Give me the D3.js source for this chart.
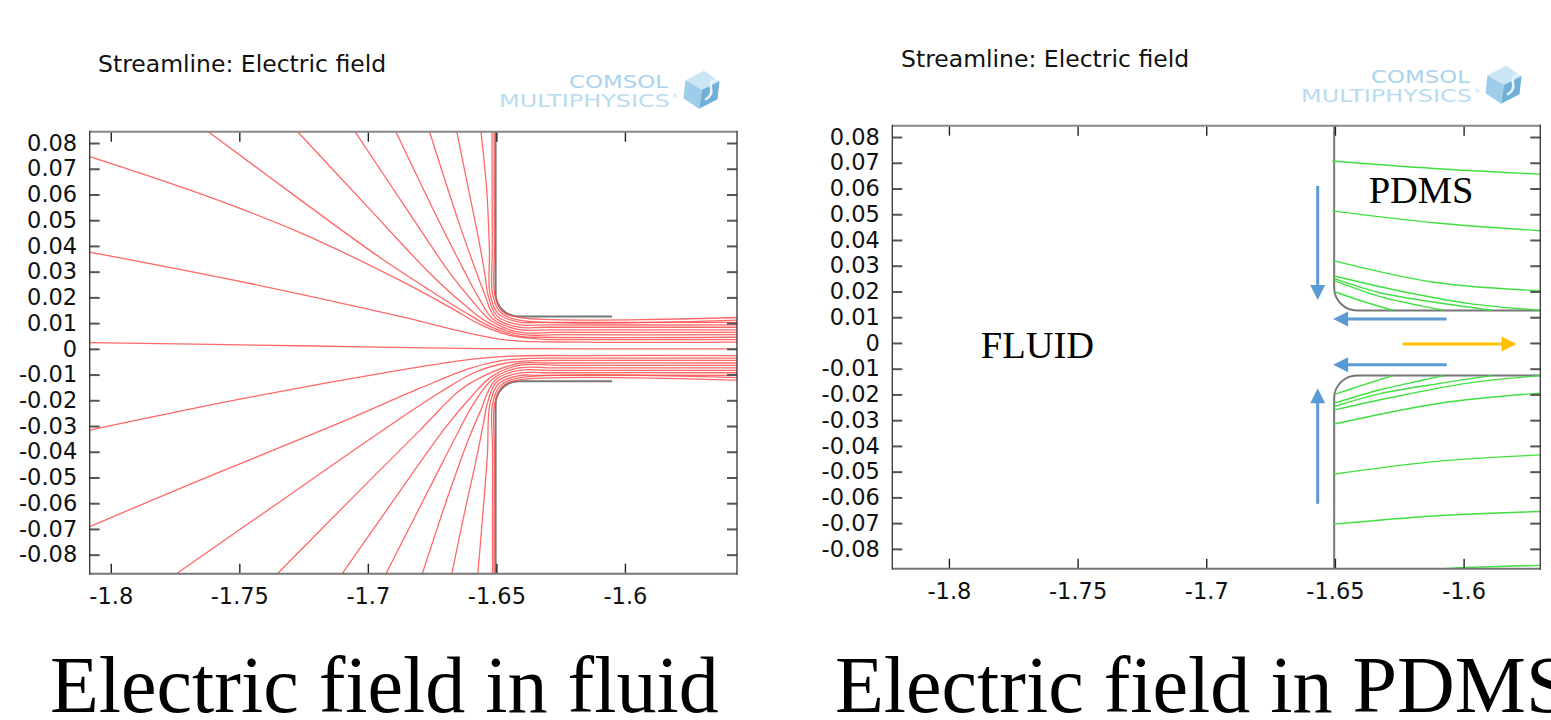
<!DOCTYPE html>
<html>
<head>
<meta charset="utf-8">
<script src="https://cdn.jsdelivr.net/npm/d3@7"></script>
<style>
  body { margin: 0; background: #fff; }
  svg { display: block; }
  .tick text { font-family: "DejaVu Sans", sans-serif; font-size: 22.5px; fill: #111; }
  .yax .tick line { stroke: #555; stroke-width: 2; }
  .xax .tick line { stroke: #222; stroke-width: 1.4; }
  .title { font-family: "DejaVu Sans", sans-serif; font-size: 23.5px; fill: #111; }
  .serif { font-family: "Liberation Serif", "Times New Roman", serif; fill: #000; }
</style>
</head>
<body>
<svg id="chart" width="1551" height="720"></svg>
<script>
// ticks
var xTicks = [-1.8, -1.75, -1.7, -1.65, -1.6];
var yTicks = [0.08, 0.07, 0.06, 0.05, 0.04, 0.03, 0.02, 0.01, 0, -0.01, -0.02, -0.03, -0.04, -0.05, -0.06, -0.07, -0.08];

// channel geometry (model units)
var wallX = -1.6503;
var channelHalf = 0.0126;
var filletR = 0.0089;
var fluidWallEnd = -1.605;

// streamlines in the fluid
var fluidUpper = [
  [[-1.6509,0.0844],[-1.6508,0.0382],[-1.6507,0.0215],[-1.6479,0.0148],[-1.6412,0.0122],[-1.556,0.0122]],
  [[-1.6517,0.0844],[-1.6516,0.0382],[-1.6515,0.0215],[-1.6485,0.0143],[-1.6412,0.0112],[-1.556,0.0112]],
  [[-1.6560,0.0844],[-1.6538,0.0623],[-1.6527,0.0382],[-1.6525,0.0215],[-1.6492,0.0136],[-1.6412,0.0104],[-1.6330,0.0103],[-1.556,0.0103]],
  [[-1.6654,0.0844],[-1.6609,0.0623],[-1.6568,0.0421],[-1.6544,0.0285],[-1.6533,0.0211],[-1.6499,0.0129],[-1.6412,0.0094],[-1.6311,0.0093],[-1.556,0.0093]],
  [[-1.6760,0.0844],[-1.6642,0.0479],[-1.6583,0.0312],[-1.6548,0.0219],[-1.6505,0.0122],[-1.6412,0.0084],[-1.6311,0.0084],[-1.556,0.0084]],
  [[-1.6891,0.0844],[-1.6719,0.0487],[-1.6626,0.0305],[-1.6572,0.0204],[-1.6512,0.0115],[-1.6412,0.0075],[-1.6291,0.0074],[-1.556,0.0074]],
  [[-1.7050,0.0844],[-1.6836,0.0524],[-1.6680,0.0293],[-1.6595,0.0188],[-1.6519,0.0108],[-1.6412,0.0065],[-1.6272,0.0064],[-1.556,0.0064]],
  [[-1.7273,0.0844],[-1.6992,0.0542],[-1.6758,0.0293],[-1.6622,0.0169],[-1.6533,0.0103],[-1.6412,0.0057],[-1.6253,0.0055],[-1.556,0.0055]],
  [[-1.7621,0.0844],[-1.7264,0.0580],[-1.6953,0.0355],[-1.6758,0.0227],[-1.6622,0.0142],[-1.6525,0.0087],[-1.6412,0.0049],[-1.6311,0.0045],[-1.556,0.0045]],
  [[-1.8082,0.0747],[-1.7653,0.0603],[-1.7264,0.0452],[-1.6875,0.0266],[-1.6680,0.0161],[-1.6564,0.0095],[-1.6447,0.0052],[-1.6311,0.0037],[-1.6194,0.0036],[-1.556,0.0036]],
  [[-1.8082,0.0376],[-1.7458,0.0254],[-1.6875,0.0126],[-1.6603,0.0060],[-1.6447,0.0033],[-1.6175,0.0026],[-1.556,0.0026]]
];
var fluidCenter = [[-1.8082,0.0024],[-1.7264,0.0012],[-1.6564,0.0001],[-1.556,0]];
var fluidLower = [
  [[-1.8082,-0.0316],[-1.7458,-0.0188],[-1.6875,-0.0083],[-1.6603,-0.0041],[-1.6447,-0.0028],[-1.6175,-0.0026],[-1.556,-0.0026]],
  [[-1.8082,-0.0691],[-1.7653,-0.0510],[-1.7112,-0.0289],[-1.6797,-0.0153],[-1.6603,-0.0076],[-1.6486,-0.0047],[-1.6369,-0.0037],[-1.6194,-0.0036],[-1.556,-0.0036]],
  [[-1.7743,-0.0873],[-1.7342,-0.0594],[-1.6953,-0.0324],[-1.6719,-0.0169],[-1.6583,-0.0091],[-1.6467,-0.0056],[-1.6350,-0.0046],[-1.6194,-0.0045],[-1.556,-0.0045]],
  [[-1.7351,-0.0873],[-1.7069,-0.0588],[-1.6797,-0.0316],[-1.6642,-0.0161],[-1.6544,-0.0103],[-1.6412,-0.0056],[-1.6311,-0.0055],[-1.556,-0.0055]],
  [[-1.7099,-0.0873],[-1.6875,-0.0553],[-1.6700,-0.0308],[-1.6603,-0.0192],[-1.6519,-0.0108],[-1.6412,-0.0064],[-1.6253,-0.0064],[-1.556,-0.0064]],
  [[-1.6929,-0.0873],[-1.6758,-0.0537],[-1.6649,-0.0324],[-1.6587,-0.0211],[-1.6512,-0.0115],[-1.6412,-0.0074],[-1.6272,-0.0074],[-1.556,-0.0074]],
  [[-1.6788,-0.0873],[-1.6680,-0.0549],[-1.6610,-0.0355],[-1.6564,-0.0246],[-1.6505,-0.0122],[-1.6412,-0.0084],[-1.6291,-0.0084],[-1.556,-0.0084]],
  [[-1.6673,-0.0873],[-1.6626,-0.0646],[-1.6579,-0.0433],[-1.6548,-0.0277],[-1.6535,-0.0211],[-1.6499,-0.0129],[-1.6412,-0.0094],[-1.6311,-0.0093],[-1.556,-0.0093]],
  [[-1.6572,-0.0873],[-1.6553,-0.0646],[-1.6535,-0.0413],[-1.6525,-0.0215],[-1.6492,-0.0136],[-1.6412,-0.0104],[-1.6330,-0.0103],[-1.556,-0.0103]],
  [[-1.6515,-0.0873],[-1.6515,-0.0394],[-1.6515,-0.0215],[-1.6485,-0.0143],[-1.6412,-0.0113],[-1.556,-0.0112]],
  [[-1.6509,-0.0873],[-1.6508,-0.0394],[-1.6507,-0.0215],[-1.6479,-0.0148],[-1.6412,-0.0121],[-1.556,-0.0122]]
];

// streamlines in the PDMS
var pdmsUpper = [
  [[-1.6510,0.0707],[-1.6115,0.0678],[-1.5702,0.0656]],
  [[-1.6510,0.0513],[-1.6115,0.0467],[-1.5702,0.0436]],
  [[-1.6507,0.0320],[-1.6115,0.0236],[-1.5702,0.0203]],
  [[-1.6502,0.0260],[-1.6248,0.0202],[-1.5976,0.0153],[-1.5702,0.0127]],
  [[-1.6502,0.0250],[-1.6325,0.0195],[-1.6092,0.0155],[-1.5890,0.0127]],
  [[-1.6502,0.0242],[-1.6325,0.0180],[-1.6170,0.0145],[-1.6077,0.0127]],
  [[-1.6496,0.0197],[-1.6402,0.0165],[-1.6275,0.0127]]
];
var pdmsLower = [
  [[-1.6507,-0.0704],[-1.6115,-0.0672],[-1.5702,-0.0655]],
  [[-1.6507,-0.0510],[-1.6115,-0.0461],[-1.5702,-0.0435]],
  [[-1.6507,-0.0316],[-1.6092,-0.0234],[-1.5702,-0.0195]],
  [[-1.6502,-0.0260],[-1.6248,-0.0205],[-1.5976,-0.0155],[-1.5702,-0.0127]],
  [[-1.6502,-0.0247],[-1.6325,-0.0197],[-1.6092,-0.0157],[-1.5890,-0.0127]],
  [[-1.6502,-0.0234],[-1.6325,-0.0182],[-1.6170,-0.0147],[-1.6077,-0.0127]],
  [[-1.6496,-0.0198],[-1.6402,-0.0167],[-1.6275,-0.0127]],
  [[-1.6150,-0.0885],[-1.6062,-0.0876],[-1.5702,-0.0864]]
];

// annotation arrows on the PDMS plot [from, to]
var fieldArrows = [
  [[-1.6567, 0.0610], [-1.6567, 0.0167]],
  [[-1.6567, -0.0625], [-1.6567, -0.0176]],
  [[-1.6066, 0.0093], [-1.6507, 0.0093]],
  [[-1.6066, -0.0085], [-1.6507, -0.0085]]
];
var flowArrow = [[-1.6237, -0.0004], [-1.5794, -0.0004]];

var regionLabels = [
  {text: "FLUID", x: -1.7876, y: -0.0059},
  {text: "PDMS", x: -1.6369, y: 0.0543}
];

var panels = [
  {name: "fluid", xDom: [-1.8082, -1.5564], yDom: [0.0844, -0.0874],
   left: 89.7, right: 737, top: 131.7, bottom: 573.7,
   titleX: 98, titleY: 72.3, logoX: 499, logoY: 106.7,
   wallEnd: fluidWallEnd, caption: "Electric field in fluid", capX: 50},
  {name: "pdms", xDom: [-1.822, -1.5702], yDom: [0.0844, -0.0877],
   left: 892.3, right: 1540.3, top: 125.7, bottom: 568.7,
   titleX: 901, titleY: 66.7, logoX: 1301, logoY: 101.7,
   wallEnd: -1.5702, caption: "Electric field in PDMS", capX: 835}
];

var svg = d3.select("#chart");
var fmt = function(d) { return d === 0 ? "0" : String(d); };

function drawLogo(x, y) {
  var g = svg.append("g");
  g.append("text").attr("x", x + 70).attr("y", y - 18.4)
    .attr("textLength", 99).attr("lengthAdjust", "spacingAndGlyphs")
    .style("font-family", "DejaVu Sans").style("font-size", "17px")
    .style("fill", "#a9d3ec").text("COMSOL");
  g.append("text").attr("x", x).attr("y", y)
    .attr("textLength", 171).attr("lengthAdjust", "spacingAndGlyphs")
    .style("font-family", "DejaVu Sans").style("font-size", "17px")
    .style("fill", "#b8dcf0").text("MULTIPHYSICS");
  g.append("text").attr("x", x + 173).attr("y", y - 9)
    .style("font-family", "DejaVu Sans").style("font-size", "6px")
    .style("fill", "#b8dcf0").text("®");
  var cx = x + 202, cy = y - 17, r = 19;
  var T = [cx + 3, cy - r], UR = [cx + 0.87 * r + 2, cy - 0.45 * r], LR = [cx + 0.87 * r, cy + 0.5 * r],
      B = [cx - 2, cy + r], LL = [cx - 0.87 * r - 1, cy + 0.45 * r], UL = [cx - 0.87 * r + 1, cy - 0.5 * r],
      C = [cx + 1, cy];
  var faces = [[T, UR, C, UL], [C, UR, LR, B], [UL, C, B, LL]];
  var fills = ["#c4e3f4", "#5fa6d6", "#93c7e7"];
  faces.forEach(function(f, i) {
    g.append("path").attr("d", "M" + f.join("L") + "Z").style("fill", fills[i]).style("opacity", 0.9);
  });
  g.append("path")
    .attr("d", "M" + (cx + 4) + "," + (cy + 10) + " q8,-4 6,-12 q-2,-7 6,-8")
    .style("fill", "none").style("stroke", "#e8f4fb").style("stroke-width", 2.5);
}

panels.forEach(function(p, pi) {
  var x = d3.scaleLinear().domain(p.xDom).range([p.left, p.right]);
  var y = d3.scaleLinear().domain(p.yDom).range([p.top, p.bottom]);
  var g = svg.append("g");

  g.append("clipPath").attr("id", "clip-" + p.name)
    .append("rect").attr("x", p.left).attr("y", p.top)
    .attr("width", p.right - p.left).attr("height", p.bottom - p.top);
  var plot = g.append("g").attr("clip-path", "url(#clip-" + p.name + ")");

  // channel walls
  var rpx = x(wallX + filletR) - x(wallX);
  [1, -1].forEach(function(s) {
    var path = d3.path();
    var yEdge = s > 0 ? p.yDom[0] : p.yDom[1];
    path.moveTo(x(wallX), y(yEdge));
    path.lineTo(x(wallX), y(s * (channelHalf + filletR)));
    path.arcTo(x(wallX), y(s * channelHalf), x(wallX + filletR), y(s * channelHalf), rpx);
    path.lineTo(x(p.wallEnd), y(s * channelHalf));
    plot.append("path").attr("d", path.toString())
      .style("fill", "none").style("stroke", "#777").style("stroke-width", 2);
  });

  var line = d3.line()
    .x(function(d) { return x(d[0]); })
    .y(function(d) { return y(d[1]); })
    .curve(d3.curveCatmullRom.alpha(0.5));

  if (p.name === "fluid") {
    var fl = fluidUpper.concat([fluidCenter]).concat(fluidLower);
    plot.selectAll("path.sl").data(fl).enter().append("path")
      .attr("class", "sl").attr("d", line)
      .style("fill", "none").style("stroke", "#ff4d4d").style("stroke-width", 1.3).style("opacity", 0.85);
  } else {
    var pl = pdmsUpper.concat(pdmsLower);
    plot.selectAll("path.sl").data(pl).enter().append("path")
      .attr("class", "sl").attr("d", line)
      .style("fill", "none").style("stroke", "#40e040").style("stroke-width", 1.4);

    fieldArrows.forEach(function(a) {
      drawArrow(g, x(a[0][0]), y(a[0][1]), x(a[1][0]), y(a[1][1]), "#5b9bd5");
    });
    drawArrow(g, x(flowArrow[0][0]), y(flowArrow[0][1]), x(flowArrow[1][0]), y(flowArrow[1][1]), "#ffc000");

    g.selectAll("text.region").data(regionLabels).enter().append("text")
      .attr("class", "region serif")
      .attr("x", function(d) { return x(d.x); })
      .attr("y", function(d) { return y(d.y); })
      .style("font-size", "38.5px")
      .text(function(d) { return d.text; });
  }

  // axes, ticks pointing inward
  g.append("g").attr("class", "yax").attr("transform", "translate(" + p.left + ",0)")
    .call(d3.axisLeft(y).tickValues(yTicks).tickFormat(fmt).tickSizeInner(-10).tickSizeOuter(0).tickPadding(12.5))
    .call(function(a) { a.select(".domain").remove(); });
  g.append("g").attr("class", "yax").attr("transform", "translate(" + p.right + ",0)")
    .call(d3.axisRight(y).tickValues(yTicks).tickFormat(function() { return ""; }).tickSizeInner(-10).tickSizeOuter(0))
    .call(function(a) { a.select(".domain").remove(); });
  g.append("g").attr("class", "xax").attr("transform", "translate(0," + p.bottom + ")")
    .call(d3.axisBottom(x).tickValues(xTicks).tickFormat(fmt).tickSizeInner(-10).tickSizeOuter(0).tickPadding(14.5))
    .call(function(a) { a.select(".domain").remove(); });
  g.append("g").attr("class", "xax").attr("transform", "translate(0," + p.top + ")")
    .call(d3.axisTop(x).tickValues(xTicks).tickFormat(function() { return ""; }).tickSizeInner(-10).tickSizeOuter(0))
    .call(function(a) { a.select(".domain").remove(); });

  // frame
  g.append("line").attr("x1", p.left).attr("x2", p.right).attr("y1", p.top).attr("y2", p.top)
    .style("stroke", "#888").style("stroke-width", 2);
  g.append("line").attr("x1", p.left).attr("x2", p.right).attr("y1", p.bottom).attr("y2", p.bottom)
    .style("stroke", "#777").style("stroke-width", 2);
  [p.left, p.right].forEach(function(xx) {
    g.append("line").attr("x1", xx).attr("x2", xx).attr("y1", p.top - 1).attr("y2", p.bottom + 1)
      .style("stroke", "#333").style("stroke-width", 1.3);
  });

  svg.append("text").attr("class", "title").attr("x", p.titleX).attr("y", p.titleY)
    .text("Streamline: Electric field");
  drawLogo(p.logoX, p.logoY);

  svg.append("text").attr("class", "serif").attr("x", p.capX).attr("y", 712)
    .style("font-size", "80px").text(p.caption);
});

function drawArrow(g, x1, y1, x2, y2, color) {
  var dx = x2 - x1, dy = y2 - y1, len = Math.sqrt(dx * dx + dy * dy);
  var ux = dx / len, uy = dy / len, head = 15, half = 7.5;
  var bx = x2 - ux * head, by = y2 - uy * head;
  g.append("line").attr("x1", x1).attr("y1", y1).attr("x2", bx + ux).attr("y2", by + uy)
    .style("stroke", color).style("stroke-width", 3);
  g.append("path")
    .attr("d", "M" + x2 + "," + y2 + "L" + (bx - uy * half) + "," + (by + ux * half) +
      "L" + (bx + uy * half) + "," + (by - ux * half) + "Z")
    .style("fill", color);
}
</script>
</body>
</html>
